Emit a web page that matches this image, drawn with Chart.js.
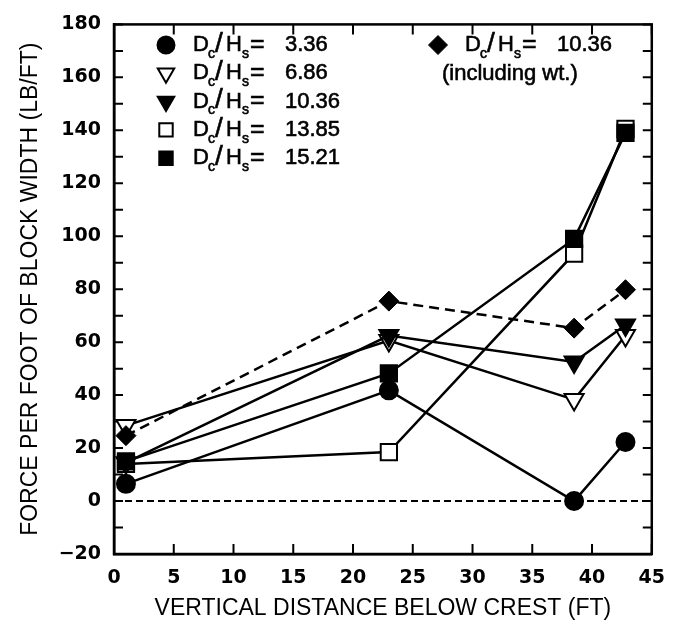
<!DOCTYPE html>
<html>
<head>
<meta charset="utf-8">
<script src="https://cdn.jsdelivr.net/npm/chart.js@4.4.0/dist/chart.umd.min.js"></script>
<style>
html, body { margin: 0; padding: 0; background: #fff; }
#wrap { width: 678px; height: 641px; }
</style>
</head>
<body>
<div id="wrap"><canvas id="chart"></canvas></div>
<script>
// depth below crest (ft)
const depths = [1, 23, 38.5, 42.8];

// force per foot of block width (lb/ft), one array per Dc/Hs
const dc336 = [6.5, 41.8, 0, 22.3];
const dc686 = [28.5, 60.6, 38.3, 62.5];
const dc1036 = [14.5, 62.5, 52.5, 66.5];
const dc1385 = [14, 18.5, 93.4, 140.5];
const dc1521 = [15, 48.2, 99, 139];
const dc1036wt = [24.7, 75.5, 65.3, 79.8];

const legendValues = ['3.36', '6.86', '10.36', '13.85', '15.21'];
const legendWtValue = '10.36';

const TICKFONT = '"DejaVu Sans", sans-serif';
const TEXTFONT = '"Liberation Sans", Arial, sans-serif';

function pts(values) {
    return values.map((v, i) => ({x: depths[i], y: v}));
}

// inward tick marks + box frame
const frameTicks = {
    id: 'frameTicks',
    beforeDatasetsDraw(chart) {
        const {ctx, chartArea: a, scales: {x, y}} = chart;
        ctx.save();
        ctx.strokeStyle = '#000';
        ctx.lineWidth = 2.5;
        ctx.strokeRect(a.left, a.top, a.right - a.left, a.bottom - a.top);
        ctx.lineWidth = 2;
        ctx.beginPath();
        x.ticks.forEach(t => {
            const px = x.getPixelForValue(t.value);
            ctx.moveTo(px, a.bottom); ctx.lineTo(px, a.bottom - 10);
            ctx.moveTo(px, a.top); ctx.lineTo(px, a.top + 10);
        });
        y.ticks.forEach(t => {
            const py = y.getPixelForValue(t.value);
            ctx.moveTo(a.left, py); ctx.lineTo(a.left + 9, py);
            ctx.moveTo(a.right, py); ctx.lineTo(a.right - 9, py);
        });
        ctx.stroke();
        ctx.restore();
    }
};

// slightly heavier text, like the plotter font
function heavyText(ctx, s, x, y) {
    ctx.fillText(s, x, y);
    ctx.strokeText(s, x, y);
}

// D_c/H_s text with subscripts, offsets
function drawRatioLabel(ctx, x, y, value) {
    const big = '22px ' + TEXTFONT;
    const small = '14px ' + TEXTFONT;
    ctx.font = big;   heavyText(ctx, 'D', x, y);
    ctx.font = small; heavyText(ctx, 'c', x + 15, y + 9);
    ctx.font = '28px ' + TEXTFONT; heavyText(ctx, '/', x + 22, y - 1);
    ctx.font = big;   heavyText(ctx, 'H', x + 33, y);
    ctx.font = small; heavyText(ctx, 's', x + 49, y + 9);
    ctx.font = '25px ' + TEXTFONT; heavyText(ctx, '=', x + 57, y);
    ctx.font = big;   heavyText(ctx, value, x + 92, y);
}

const legendMarks = [
    {pointStyle: 'circle', radius: 8.5, rotation: 0, fill: '#000'},
    {pointStyle: 'triangle', radius: 9.5, rotation: 180, fill: '#fff'},
    {pointStyle: 'triangle', radius: 9.5, rotation: 180, fill: '#000'},
    {pointStyle: 'rect', radius: 9.5, rotation: 0, fill: '#fff'},
    {pointStyle: 'rect', radius: 9.5, rotation: 0, fill: '#000'}
];

const customLegend = {
    id: 'customLegend',
    afterDatasetsDraw(chart) {
        const {ctx} = chart;
        ctx.save();
        ctx.strokeStyle = '#000';
        ctx.textBaseline = 'middle';
        ctx.textAlign = 'left';
        legendValues.forEach((v, i) => {
            const y = 45 + i * 28.3;
            const m = legendMarks[i];
            ctx.fillStyle = m.fill;
            ctx.lineWidth = 2;
            Chart.helpers.drawPoint(ctx, {pointStyle: m.pointStyle, radius: m.radius, rotation: m.rotation, borderWidth: 2}, 166, y);
            ctx.fillStyle = '#000';
            ctx.lineWidth = 0.6;
            drawRatioLabel(ctx, 193, y, v);
        });
        ctx.fillStyle = '#000';
        ctx.lineWidth = 1;
        Chart.helpers.drawPoint(ctx, {pointStyle: 'rectRot', radius: 9.5, rotation: 0, borderWidth: 1}, 438, 45);
        ctx.lineWidth = 0.6;
        drawRatioLabel(ctx, 465, 45, legendWtValue);
        ctx.font = '22px ' + TEXTFONT;
        heavyText(ctx, '(including wt.)', 442, 74);
        ctx.restore();
    }
};

const solid = {borderColor: '#000', borderWidth: 2.5, pointBorderColor: '#000', pointBorderWidth: 2, showLine: true};

new Chart(document.getElementById('chart'), {
    type: 'scatter',
    data: {
        datasets: [
            {...solid, label: 'Dc/Hs = 15.21', data: pts(dc1521), pointStyle: 'rect', pointRadius: 11.5, pointBackgroundColor: '#000'},
            {...solid, label: 'Dc/Hs = 10.36', data: pts(dc1036), pointStyle: 'triangle', pointRotation: 180, pointRadius: 11, pointBackgroundColor: '#000'},
            {...solid, label: 'Dc/Hs = 13.85', data: pts(dc1385), pointStyle: 'rect', pointRadius: 11.5, pointBackgroundColor: '#fff'},
            {...solid, label: 'Dc/Hs = 10.36 (including wt.)', data: pts(dc1036wt), borderDash: [10, 6], pointStyle: 'rectRot', pointRadius: 10, pointBackgroundColor: '#000', pointBorderWidth: 1},
            {...solid, label: 'Dc/Hs = 6.86', data: pts(dc686), pointStyle: 'triangle', pointRotation: 180, pointRadius: 11, pointBackgroundColor: '#fff'},
            {...solid, label: 'Dc/Hs = 3.36', data: pts(dc336), pointStyle: 'circle', pointRadius: 9, pointBackgroundColor: '#000'},
            {label: 'zero', data: [{x: 0, y: 0}, {x: 45, y: 0}], showLine: true, borderColor: '#000', borderWidth: 2, borderDash: [7, 4], pointRadius: 0}
        ]
    },
    options: {
        responsive: true,
        maintainAspectRatio: false,
        animation: false,
        layout: {padding: {left: 0, right: 19, top: 15, bottom: 0}},
        plugins: {
            legend: {display: false},
            tooltip: {enabled: false}
        },
        scales: {
            x: {
                type: 'linear',
                min: 0,
                max: 45,
                grid: {display: false, drawTicks: false},
                border: {display: true, color: '#000', width: 2.5},
                ticks: {stepSize: 5, color: '#000', font: {family: TICKFONT, size: 19, weight: 'bold'}, padding: 13, maxRotation: 0},
                title: {display: true, text: 'VERTICAL DISTANCE BELOW CREST (FT)', color: '#000', font: {family: TEXTFONT, size: 23}, padding: {bottom: 19}},
                afterFit(scale) { scale.height = 87; }
            },
            y: {
                min: -20,
                max: 180,
                grid: {display: false, drawTicks: false},
                border: {display: true, color: '#000', width: 2.5},
                ticks: {
                    stepSize: 10,
                    color: '#000',
                    font: {family: TICKFONT, size: 19, weight: 'bold'},
                    padding: 13,
                    autoSkip: false,
                    callback: v => (v % 20 === 0 ? String(v).replace('-', '\u2212') : '')
                },
                title: {display: true, text: 'FORCE PER FOOT OF BLOCK WIDTH (LB/FT)', color: '#000', font: {family: TEXTFONT, size: 23}, padding: {top: 17}},
                afterFit(scale) { scale.width = 114; }
            }
        }
    },
    plugins: [frameTicks, customLegend]
});
</script>
</body>
</html>
